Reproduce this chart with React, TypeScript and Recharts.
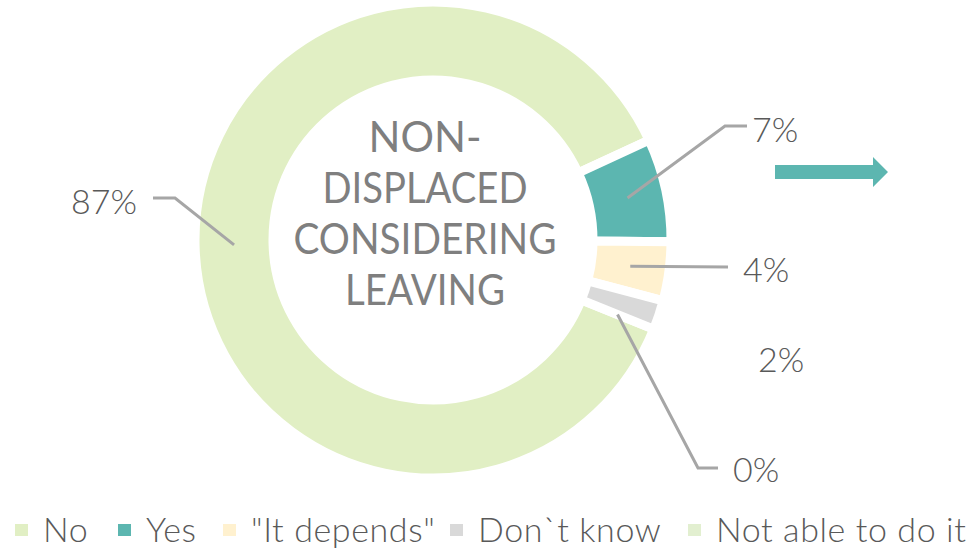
import { Cell, Legend, Pie, PieChart } from 'recharts'

document.body.style.margin = '0'

const CATEGORIES = ['No', 'Yes', '"It depends"', 'Don`t know', 'Not able to do it']
const SHARES = [87, 7, 4, 2, 0]
const COLORS = ['#e1efc4', '#5cb6b0', '#fff1cf', '#d9d9d9', '#e2efd0']
const TITLE_LINES = ['NON-', 'DISPLACED', 'CONSIDERING', 'LEAVING']

const FONT = 'Lato, "Open Sans", sans-serif'
const RADIAN = Math.PI / 180

// leader line layout per slice, offsets from the pie centre
const LABEL_LAYOUT = [
  { elbow: [-258, -42], end: [-280, -42], text: [-296, -40], anchor: 'end', line: true },
  { elbow: [292, -114], end: [314, -114], text: [319, -112], anchor: 'start', line: true },
  { elbow: [295, 27], end: [295, 27], text: [310, 28], anchor: 'start', line: true },
  { elbow: [0, 0], end: [0, 0], text: [325, 118], anchor: 'start', line: false },
  { elbow: [265, 228], end: [285, 228], text: [300, 228], anchor: 'start', line: true },
]

// legend item left edges (square start)
const LEGEND_X = [15, 118, 223, 450, 688]

const data = CATEGORIES.map((name, i) => ({ name, value: SHARES[i] }))

function renderLabel(props: any) {
  const { cx, cy, midAngle, innerRadius, outerRadius, index, value } = props
  const layout = LABEL_LAYOUT[index]
  const r = (innerRadius + outerRadius) / 2
  const ax = cx + r * Math.cos(-midAngle * RADIAN)
  const ay = cy + r * Math.sin(-midAngle * RADIAN)
  return (
    <g key={`lbl-${index}`}>
      {layout.line && (
        <polyline
          points={`${ax},${ay} ${cx + layout.elbow[0]},${cy + layout.elbow[1]} ${cx + layout.end[0]},${cy + layout.end[1]}`}
          fill="none"
          stroke="#a6a6a6"
          strokeWidth={3}
        />
      )}
      <text
        x={cx + layout.text[0]}
        y={cy + layout.text[1]}
        textAnchor={layout.anchor}
        dominantBaseline="central"
        fill="#595959"
        fontFamily={FONT}
        fontWeight={300}
        fontSize={34}
      >
        {`${value}%`}
      </text>
    </g>
  )
}

// legend drawn in data order (recharts would sort it by name)
function renderLegend() {
  return (
    <div style={{ position: 'relative', width: 975, height: 44 }}>
      {CATEGORIES.map((name, i) => (
        <div
          key={name}
          style={{ position: 'absolute', left: LEGEND_X[i], top: 0, display: 'flex', alignItems: 'center', height: 44 }}
        >
          <span
            style={{
              display: 'inline-block',
              width: 13,
              height: 12,
              background: COLORS[i],
              marginRight: 15,
              marginTop: 4,
            }}
          />
          <span
            style={{
              fontFamily: FONT,
              fontWeight: 300,
              fontSize: 34,
              letterSpacing: 0.6,
              color: '#595959',
              whiteSpace: 'nowrap',
            }}
          >
            {name}
          </span>
        </div>
      ))}
    </div>
  )
}

const TITLE_WIDTHS = [113, 205, 263, 160]

export default function App() {
  return (
    <div style={{ position: 'relative', width: 975, height: 550, background: '#fff' }}>
      <PieChart width={975} height={550} margin={{ top: 0, right: 0, bottom: 0, left: 0 }}>
        <Pie
          data={data}
          dataKey="value"
          nameKey="name"
          cx={433}
          cy={240}
          innerRadius={160}
          outerRadius={238}
          startAngle={-22}
          endAngle={-382}
          stroke="#ffffff"
          strokeWidth={9}
          label={renderLabel}
          labelLine={false}
          isAnimationActive={false}
        >
          {data.map((d, i) => (
            <Cell key={d.name} fill={COLORS[i]} />
          ))}
        </Pie>
        <Legend
          verticalAlign="bottom"
          content={renderLegend}
          wrapperStyle={{ left: 0, bottom: 0, width: 975 }}
        />
      </PieChart>
      <svg
        width={975}
        height={550}
        style={{ position: 'absolute', left: 0, top: 0, pointerEvents: 'none' }}
      >
        {TITLE_LINES.map((line, i) => (
          <text
            key={line}
            x={425}
            y={152 + i * 51}
            textAnchor="middle"
            fill="#7f7f7f"
            fontFamily={FONT}
            fontSize={42}
            textLength={TITLE_WIDTHS[i]}
            lengthAdjust="spacingAndGlyphs"
          >
            {line}
          </text>
        ))}
        <path d="M775,165 L873,165 L873,157 L888,172 L873,187 L873,179 L775,179 Z" fill="#5cb6b0" />
      </svg>
    </div>
  )
}
